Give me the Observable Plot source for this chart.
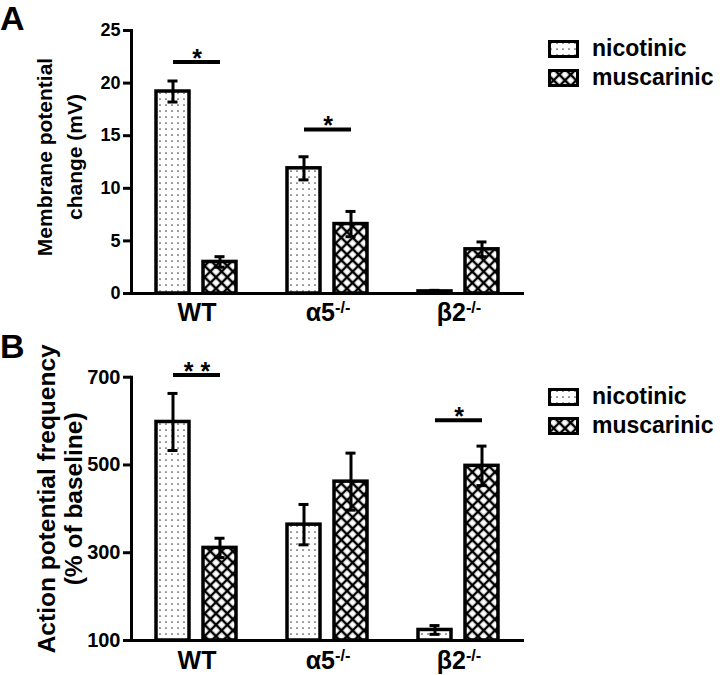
<!DOCTYPE html>
<html>
<head>
<meta charset="utf-8">
<script src="https://cdn.jsdelivr.net/npm/d3@7"></script>
<script src="https://cdn.jsdelivr.net/npm/@observablehq/plot@0.6"></script>
<style>
  html, body { margin: 0; padding: 0; background: white; }
  #root { position: relative; width: 720px; height: 675px; overflow: hidden; font-family: 'Liberation Sans', Arial, sans-serif; font-weight: bold; color: black; }
  .panel { position: absolute; left: 0; }
  .letter { position: absolute; left: 0; font-size: 34px; line-height: 34px; font-weight: bold; }
  .legend { position: absolute; left: 548px; }
  .legend .row { display: flex; align-items: center; height: 29px; }
  .legend .row span { margin-left: 13px; font-size: 23px; font-weight: bold; }
</style>
</head>
<body>
<div id="root">
  <svg width="0" height="0" style="position:absolute">
    <defs>
      <pattern id="dots" width="6" height="6" patternUnits="userSpaceOnUse">
        <rect width="6" height="6" fill="white"></rect>
        <circle cx="3" cy="3" r="0.85" fill="#444"></circle>
      </pattern>
      <pattern id="xhatch" width="8" height="8" patternUnits="userSpaceOnUse" patternTransform="rotate(45)">
        <rect width="8" height="8" fill="white"></rect>
        <path d="M4 0V8M0 4H8" stroke="black" stroke-width="2.4"></path>
      </pattern>
    </defs>
  </svg>
</div>
<script>
// ---- data ----
const groups = ["WT", "α5-/-", "β2-/-"];
const types = ["nicotinic", "muscarinic"];
const typeFills = ["url(#dots)", "url(#xhatch)"];

// Panel A: membrane potential change (mV)
const mpNicotinic = [19.2, 11.9, 0.2];
const mpNicotinicSem = [1.0, 1.1, 0.1];
const mpMuscarinic = [3.0, 6.6, 4.2];
const mpMuscarinicSem = [0.5, 1.2, 0.7];
const mpTicks = [0, 5, 10, 15, 20, 25];
const mpDomain = [0, 25];
const mpSigGroups = ["WT", "α5-/-"];
const mpSigY = [22, 15.6];
const mpSigLabels = ["*", "*"];
const mpLabel = "Membrane potential\nchange (mV)";

// Panel B: action potential frequency (% of baseline)
const apNicotinic = [598, 364, 124];
const apNicotinicSem = [65, 46, 10];
const apMuscarinic = [311, 462, 498];
const apMuscarinicSem = [22, 65, 45];
const apTicks = [100, 300, 500, 700];
const apDomain = [100, 700];
const apSigGroups = ["WT", "β2-/-"];
const apSigY = [705, 602];
const apSigLabels = ["* *", "*"];
const apLabel = "Action potential frequency\n(% of baseline)";

function rows(nic, nicSem, mus, musSem) {
  const out = [];
  groups.forEach((g, i) => {
    out.push({group: g, type: types[0], value: nic[i], sem: nicSem[i]});
    out.push({group: g, type: types[1], value: mus[i], sem: musSem[i]});
  });
  return out;
}
function sigRows(gs, ys, labels) {
  return gs.map((g, i) => ({group: g, y: ys[i], label: labels[i]}));
}

const font = "'Liberation Sans', Arial, sans-serif";

function superscript(svg) {
  d3.select(svg).selectAll("text").each(function () {
    if (this.querySelector("tspan")) return;
    const t = this.textContent;
    const m = t.match(/^(.*?)(-\/-)$/);
    if (m) {
      const sel = d3.select(this);
      sel.text(null);
      sel.append("tspan").text(m[1]);
      sel.append("tspan").attr("dy", "-0.5em").attr("font-size", "0.65em").text(m[2]);
    }
  });
}

function panel(opts) {
  const data = rows(...opts.series);
  const sig = sigRows(...opts.sig);
  const base = opts.domain[0];
  const plot = Plot.plot({
    width: 720,
    height: opts.height,
    marginLeft: 130,
    marginRight: 196,
    marginTop: opts.marginTop,
    marginBottom: opts.marginBottom,
    fx: {domain: groups, paddingInner: 0, paddingOuter: 0, axis: null},
    x: {domain: types, paddingInner: 0.29, paddingOuter: 0.51, axis: null},
    y: {domain: opts.domain, axis: null},
    color: {domain: types, range: typeFills},
    style: {fontFamily: font, fontWeight: "bold", color: "black", background: "transparent", overflow: "visible"},
    marks: [
      Plot.barY(data, {fx: "group", x: "type", y1: () => base, y2: "value", fill: "type", stroke: "black", strokeWidth: 3.5}),
      Plot.ruleX(data, {fx: "group", x: "type", y1: d => d.value - d.sem, y2: d => d.value + d.sem, stroke: "black", strokeWidth: 3}),
      Plot.tickY(data, {fx: "group", x: "type", y: d => d.value + d.sem, insetLeft: 11.5, insetRight: 11.5, stroke: "black", strokeWidth: 3}),
      Plot.tickY(data, {fx: "group", x: "type", y: d => d.value - d.sem, insetLeft: 11.5, insetRight: 11.5, stroke: "black", strokeWidth: 3}),
      Plot.ruleY([base], {stroke: "black", strokeWidth: 3}),
      Plot.frame({anchor: "left", facetAnchor: "left", stroke: "black", strokeWidth: 3}),
      Plot.axisY({ticks: opts.ticks, tickSize: 8, tickPadding: 3, fontSize: opts.tickFont, strokeWidth: 3, label: null}),
      Plot.axisFx({anchor: "bottom", tickSize: 0, tickPadding: opts.fxPadding, fontSize: 25, label: null}),
      Plot.link(sig, {fx: "group", x1: () => types[0], x2: () => types[1], y1: "y", y2: "y", stroke: "black", strokeWidth: 4}),
      Plot.text(sig, {fx: "group", y: "y", text: "label", lineAnchor: "bottom", dy: 5, fontSize: 25}),
      Plot.text([opts.label], {fx: () => groups[0], frameAnchor: "left", textAnchor: "middle", lineAnchor: "middle", rotate: -90, text: d => d, dx: opts.labelDx, dy: opts.labelDy, fontSize: opts.labelFont, lineHeight: opts.labelLH})
    ]
  });
  superscript(plot);
  return plot;
}

const root = document.getElementById("root");

function legend(top) {
  const div = document.createElement("div");
  div.className = "legend";
  div.style.top = top + "px";
  types.forEach((t, i) => {
    const row = document.createElement("div");
    row.className = "row";
    row.innerHTML = `<svg width="31" height="18"><rect x="1.5" y="1.5" width="28" height="15" fill="${typeFills[i]}" stroke="black" stroke-width="3"></rect></svg><span>${t}</span>`;
    div.appendChild(row);
  });
  root.appendChild(div);
}

// Panel A
const wrapA = document.createElement("div");
wrapA.className = "panel";
wrapA.style.top = "0px";
wrapA.appendChild(panel({
  series: [mpNicotinic, mpNicotinicSem, mpMuscarinic, mpMuscarinicSem],
  sig: [mpSigGroups, mpSigY, mpSigLabels],
  domain: mpDomain, ticks: mpTicks, height: 325, marginTop: 30, marginBottom: 32,
  tickFont: 18, fxPadding: 10, label: mpLabel, labelFont: 21, labelLH: 1.4, labelDx: -74, labelDy: -5
}));
root.appendChild(wrapA);

// Panel B
const wrapB = document.createElement("div");
wrapB.className = "panel";
wrapB.style.top = "325px";
wrapB.appendChild(panel({
  series: [apNicotinic, apNicotinicSem, apMuscarinic, apMuscarinicSem],
  sig: [apSigGroups, apSigY, apSigLabels],
  domain: apDomain, ticks: apTicks, height: 350, marginTop: 51.7, marginBottom: 35,
  tickFont: 20, fxPadding: 11, label: apLabel, labelFont: 24.5, labelLH: 1.1, labelDx: -72, labelDy: -10
}));
root.appendChild(wrapB);

// Panel letters
const la = document.createElement("div"); la.className = "letter"; la.style.top = "1px"; la.textContent = "A"; root.appendChild(la);
const lb = document.createElement("div"); lb.className = "letter"; lb.style.top = "329px"; lb.textContent = "B"; root.appendChild(lb);

legend(34);
legend(382);
</script>
</body>
</html>
